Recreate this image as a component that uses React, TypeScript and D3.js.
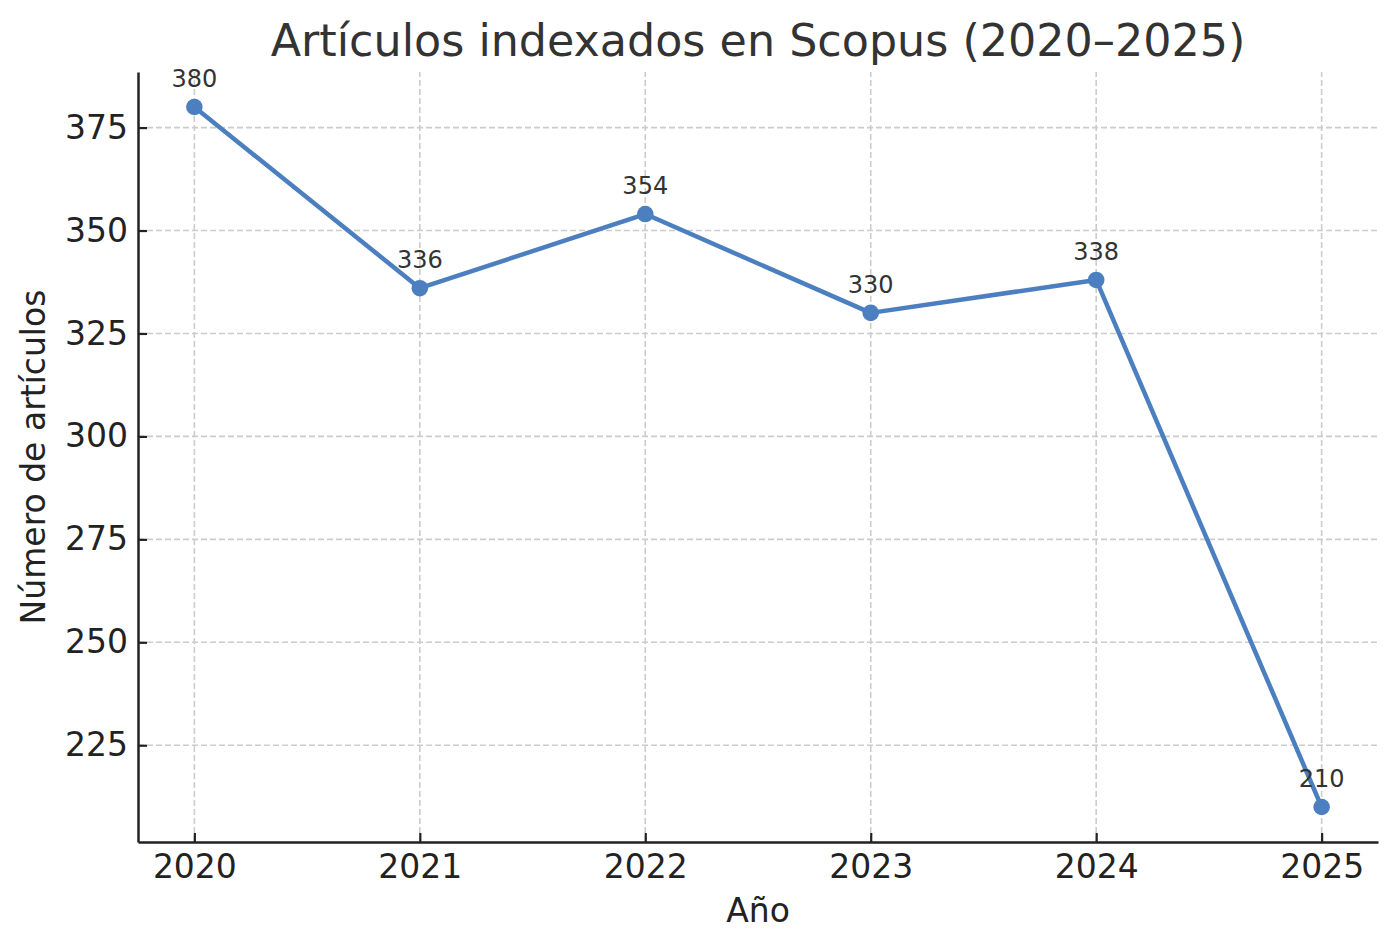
import * as d3 from 'd3';
import { useEffect, useRef } from 'react';

const years = [2020, 2021, 2022, 2023, 2024, 2025];
const articles = [380, 336, 354, 330, 338, 210];
const yTicks = [225, 250, 275, 300, 325, 350, 375];

const colors = {
  line: '#4C7FBF',
  text: '#222222',
  title: '#333333',
  grid: '#CCCCCC',
};

const font = '"DejaVu Sans", sans-serif';

export default function App() {
  const ref = useRef<SVGSVGElement | null>(null);

  useEffect(() => {
    if (!ref.current) return;

    const width = 1397;
    const height = 949;
    const margin = { top: 72, right: 19, bottom: 107, left: 138 };

    const svg = d3.select(ref.current);
    svg.selectAll('*').remove();

    const x = d3
      .scaleLinear()
      .domain([2019.75, 2025.25])
      .range([margin.left, width - margin.right]);

    // matplotlib style 5% margins around the data
    const yMin = d3.min(articles)!;
    const yMax = d3.max(articles)!;
    const pad = (yMax - yMin) * 0.05;
    const y = d3
      .scaleLinear()
      .domain([yMin - pad, yMax + pad])
      .range([height - margin.bottom, margin.top]);

    svg
      .append('rect')
      .attr('width', width)
      .attr('height', height)
      .attr('fill', 'white');

    // grid
    const grid = svg
      .append('g')
      .attr('stroke', colors.grid)
      .attr('stroke-width', 1.6)
      .attr('stroke-dasharray', '6,3');

    grid
      .selectAll('line.gx')
      .data(years)
      .join('line')
      .attr('x1', (d) => x(d))
      .attr('x2', (d) => x(d))
      .attr('y1', y.range()[0])
      .attr('y2', y.range()[1]);

    grid
      .selectAll('line.gy')
      .data(yTicks)
      .join('line')
      .attr('x1', x.range()[0])
      .attr('x2', x.range()[1])
      .attr('y1', (d) => y(d))
      .attr('y2', (d) => y(d));

    // axes, ticks pointing inward
    const xAxis = svg
      .append('g')
      .attr('transform', `translate(0,${y.range()[0]})`)
      .call(
        d3
          .axisBottom(x)
          .tickValues(years)
          .tickFormat(d3.format('d'))
          .tickSizeInner(-9)
          .tickSizeOuter(0),
      );

    const yAxis = svg
      .append('g')
      .attr('transform', `translate(${x.range()[0]},0)`)
      .call(
        d3
          .axisLeft(y)
          .tickValues(yTicks)
          .tickSizeInner(-9)
          .tickSizeOuter(0),
      );

    [xAxis, yAxis].forEach((axis) => {
      axis.select('.domain').attr('stroke', colors.text).attr('stroke-width', 2.5);
      axis.selectAll('.tick line').attr('stroke', colors.text).attr('stroke-width', 2.2);
      axis
        .selectAll('.tick text')
        .attr('fill', colors.text)
        .attr('font-family', font)
        .attr('font-size', 33);
    });
    xAxis.selectAll('.tick text').attr('dy', 0).attr('y', 36);
    yAxis.selectAll('.tick text').attr('x', -10);

    // line + markers
    const points = years.map((yr, i) => [yr, articles[i]] as [number, number]);

    svg
      .append('path')
      .datum(points)
      .attr('fill', 'none')
      .attr('stroke', colors.line)
      .attr('stroke-width', 4.5)
      .attr('stroke-linejoin', 'round')
      .attr(
        'd',
        d3
          .line<[number, number]>()
          .x((d) => x(d[0]))
          .y((d) => y(d[1])),
      );

    svg
      .append('g')
      .selectAll('circle')
      .data(points)
      .join('circle')
      .attr('cx', (d) => x(d[0]))
      .attr('cy', (d) => y(d[1]))
      .attr('r', 8.3)
      .attr('fill', colors.line);

    // value labels
    svg
      .append('g')
      .selectAll('text')
      .data(points)
      .join('text')
      .attr('x', (d) => x(d[0]))
      .attr('y', (d) => y(d[1]) - 20)
      .attr('text-anchor', 'middle')
      .attr('font-family', font)
      .attr('font-size', 24)
      .attr('fill', colors.title)
      .text((d) => d[1]);

    // titles
    const cx = (x.range()[0] + x.range()[1]) / 2;
    const cy = (y.range()[0] + y.range()[1]) / 2;

    svg
      .append('text')
      .attr('x', cx)
      .attr('y', 56)
      .attr('text-anchor', 'middle')
      .attr('font-family', font)
      .attr('font-size', 44.4)
      .attr('fill', colors.title)
      .text('Artículos indexados en Scopus (2020–2025)');

    svg
      .append('text')
      .attr('x', cx)
      .attr('y', 922)
      .attr('text-anchor', 'middle')
      .attr('font-family', font)
      .attr('font-size', 33)
      .attr('fill', colors.text)
      .text('Año');

    svg
      .append('text')
      .attr('transform', `translate(45,${cy}) rotate(-90)`)
      .attr('text-anchor', 'middle')
      .attr('font-family', font)
      .attr('font-size', 33)
      .attr('fill', colors.text)
      .text('Número de artículos');
  }, []);

  return (
    <svg
      ref={ref}
      width={1397}
      height={949}
      style={{ position: 'absolute', left: 0, top: 0 }}
    />
  );
}
